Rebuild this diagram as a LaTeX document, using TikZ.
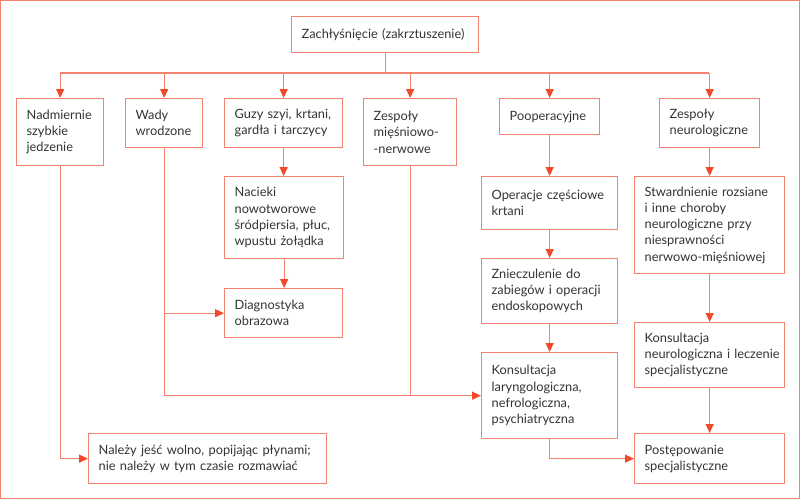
\documentclass[tikz,border=0pt]{standalone}
\usepackage{fontspec}
\setmainfont{Lato}
\usetikzlibrary{arrows.meta}
\definecolor{boxc}{HTML}{F4826F}
\definecolor{arrc}{HTML}{F04A2A}
\definecolor{txtc}{HTML}{333333}
\newcommand{\boxfont}{\fontsize{12.8pt}{16.2pt}\selectfont}
\hyphenpenalty=10000\relax
\exhyphenpenalty=10000\relax
\hbadness=10000\relax
\hfuzz=60pt\relax
\tikzset{
  box/.style={draw=boxc, line width=1.3pt, anchor=north west, inner xsep=10pt, inner ysep=0pt,
    align=left, text=txtc, font=\boxfont},
  ln/.style={draw=boxc, line width=1.3pt},
  arr/.style={ln, -{Triangle[length=9pt,width=8pt,color=arrc]}}
}
\newcommand{\bx}[6]{\node[box, minimum width=#4pt, minimum height=#5pt, text width=#4pt-20pt] (#1) at (#2,#3) {#6};}
\begin{document}
\begin{tikzpicture}[x=1pt,y=-1pt]
\useasboundingbox (0,0) rectangle (800,499);
\draw[boxc, line width=1.3pt] (0.7,0.7) rectangle (799.3,498.3);
\bx{top}{291}{16}{187}{36}{Zachłyśnięcie (zakrztuszenie)}
\bx{n1}{16}{98}{87}{67}{Nadmiernie\\szybkie\\jedzenie}
\bx{n2}{125}{98}{77}{49}{Wady\\wrodzone}
\bx{n3}{224}{98}{118}{49}{Guzy szyi, krtani,\\gardła i tarczycy}
\bx{n4}{363}{98}{93}{67}{Zespoły\\mięśniowo-\\-nerwowe}
\bx{n5}{499}{98}{100}{36}{Pooperacyjne}
\bx{n6}{659}{98}{100}{49}{Zespoły\\neurologiczne}
\bx{nac}{224}{176}{119}{82}{Nacieki\\nowotworowe\\śródpiersia, płuc,\\wpustu żołądka}
\bx{diag}{224}{288}{118}{49}{Diagnostyka\\obrazowa}
\bx{oper}{481}{176}{136}{53}{Operacje częściowe\\krtani}
\bx{znie}{481}{258}{136}{65}{Znieczulenie do\\zabiegów i operacji\\endoskopowych}
\bx{kons}{481}{352}{136}{86}{Konsultacja\\laryngologiczna,\\nefrologiczna,\\psychiatryczna}
\bx{stw}{634}{176}{150}{97}{Stwardnienie~rozsiane\\i inne choroby\\neurologiczne przy\\niesprawności\\nerwowo-mięśniowej}
\bx{kneu}{634}{322}{150}{65}{Konsultacja\\neurologiczna~i~leczenie\\specjalistyczne}
\bx{post}{634}{433}{150}{50}{Postępowanie\\specjalistyczne}
\bx{nal}{88}{433}{238}{50}{Należy jeść wolno, popijając płynami;\\nie należy w tym czasie rozmawiać}
% bus
\coordinate (busL) at (59.5,73);
\coordinate (busR) at (709,73);
\draw[ln] (busL) -- (busR);
\draw[ln] (top.south) -- (top.south |- busL);
\foreach \n in {n1,n2,n3,n4,n5,n6} \draw[arr] (\n.north |- busL) -- (\n.north);
% chains
\draw[arr] (n3.south) -- (n3.south |- nac.north);
\draw[arr] (nac.south) -- (nac.south |- diag.north);
\draw[ln] (n2.south) -- (n2.south |- kons.west);
\draw[arr] (n2.south |- diag.west) -- (diag.west);
\draw[arr] (n2.south |- kons.west) -- (kons.west);
\draw[ln] (n4.south) -- (n4.south |- kons.west);
\draw[arr] (n1.south) |- (nal.west);
\draw[arr] (n5.south) -- (n5.south |- oper.north);
\draw[arr] (oper.south) -- (oper.south |- znie.north);
\draw[arr] (znie.south) -- (znie.south |- kons.north);
\draw[arr] (kons.south) |- (post.west);
\draw[arr] (n6.south) -- (n6.south |- stw.north);
\draw[arr] (stw.south) -- (stw.south |- kneu.north);
\draw[arr] (kneu.south) -- (kneu.south |- post.north);
\end{tikzpicture}
\end{document}
